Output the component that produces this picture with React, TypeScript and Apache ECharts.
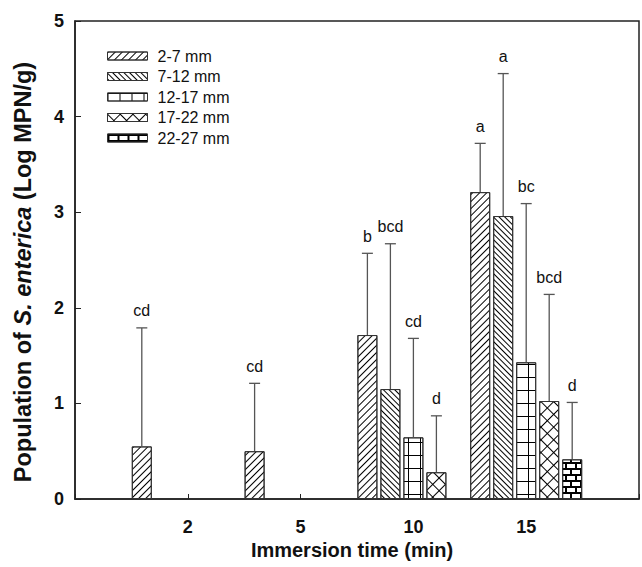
import React, { useEffect, useRef } from "react";
import * as echarts from "echarts";

// ---- data ----
const categories = ["", "2", "5", "10", "15", ""];
const seriesNames = ["2-7 mm", "7-12 mm", "12-17 mm", "17-22 mm", "22-27 mm"];

const mean_2_7 = [null, 0.55, 0.5, 1.715, 3.21, null];
const mean_7_12 = [null, null, null, 1.15, 2.96, null];
const mean_12_17 = [null, null, null, 0.645, 1.43, null];
const mean_17_22 = [null, null, null, 0.28, 1.025, null];
const mean_22_27 = [null, null, null, null, 0.415, null];

const upper_2_7 = [null, 1.79, 1.21, 2.57, 3.72, null];
const upper_7_12 = [null, null, null, 2.67, 4.45, null];
const upper_12_17 = [null, null, null, 1.68, 3.09, null];
const upper_17_22 = [null, null, null, 0.87, 2.14, null];
const upper_22_27 = [null, null, null, null, 1.01, null];

const letters_2_7 = ["", "cd", "cd", "b", "a", ""];
const letters_7_12 = ["", "", "", "bcd", "a", ""];
const letters_12_17 = ["", "", "", "cd", "bc", ""];
const letters_17_22 = ["", "", "", "d", "bcd", ""];
const letters_22_27 = ["", "", "", "", "d", ""];

const yMin = 0;
const yMax = 5;
const yInterval = 1;

const xTitle = "Immersion time (min)";

const means = [mean_2_7, mean_7_12, mean_12_17, mean_17_22, mean_22_27];
const uppers = [upper_2_7, upper_7_12, upper_12_17, upper_17_22, upper_22_27];
const letters = [letters_2_7, letters_7_12, letters_12_17, letters_17_22, letters_22_27];

// ---- style ----
const FONT = "'Liberation Sans', Arial, Helvetica, sans-serif";
const BAR_W = 20;
const BAR_GAP_PX = 3;

const base = { symbol: "rect", symbolSize: 1, symbolKeepAspect: false, color: "#000" };
const decals: any[] = [
  // "/" hatch
  { ...base, dashArrayX: [10, 0], dashArrayY: [1, 4], rotation: -Math.PI / 4 },
  // "\" hatch
  { ...base, dashArrayX: [10, 0], dashArrayY: [1, 3], rotation: Math.PI / 4 },
  // square grid
  { ...base, dashArrayX: [[12, 0], [1, 11]], dashArrayY: [1, 0, 12, 0], rotation: 0 },
  // diagonal cross-hatch
  { ...base, dashArrayX: [[9, 0], [1, 8]], dashArrayY: [1, 0, 8, 0], rotation: Math.PI / 4 },
  // brick
  {
    ...base,
    dashArrayX: [[10, 0], [2, 8], [10, 0], [0, 5, 2, 3]],
    dashArrayY: [2, 0, 4, 0, 2, 0, 4, 0],
    rotation: 0,
  },
];

export default function App() {
  const ref = useRef<HTMLDivElement>(null);

  useEffect(() => {
    if (!ref.current) return;
    const chart = echarts.init(ref.current, null, { renderer: "svg" });

    const errData: any[] = [];
    const errLetters: string[] = [];
    means.forEach((arr, s) => {
      arr.forEach((m, c) => {
        if (m != null && uppers[s][c] != null) {
          errData.push([c, s, m, uppers[s][c]]);
          errLetters.push(letters[s][c]);
        }
      });
    });
    const nSeries = seriesNames.length;

    const barSeries = seriesNames.map((name, s) => ({
      type: "bar",
      name,
      data: means[s].map((v) => (v == null ? "-" : v)),
      barWidth: BAR_W,
      barGap: `${(BAR_GAP_PX / BAR_W) * 100}%`,
      itemStyle: {
        color: "#fff",
        borderColor: "#333",
        borderWidth: 1,
        decal: decals[s],
      },
      emphasis: { disabled: true },
    }));

    const option: any = {
      animation: false,
      aria: { enabled: false },
      grid: {
        left: 75,
        top: 21,
        right: -8,
        bottom: 68,
        show: true,
        borderColor: "#222",
        borderWidth: 1.5,
        backgroundColor: "transparent",
      },
      legend: {
        data: seriesNames,
        orient: "vertical",
        left: 102,
        top: 43,
        icon: "rect",
        itemWidth: 40,
        itemHeight: 8,
        itemGap: 4.5,
        selectedMode: false,
        itemStyle: { borderColor: "#333", borderWidth: 1 },
        textStyle: {
          fontFamily: FONT,
          fontSize: 16,
          lineHeight: 16,
          color: "#111",
          padding: [0, 0, 0, 5],
        },
      },
      xAxis: {
        type: "category",
        data: categories,
        boundaryGap: false,
        axisLine: { show: true, lineStyle: { color: "#222", width: 1.5 } },
        axisTick: {
          show: true,
          inside: true,
          length: 5,
          interval: 0,
          lineStyle: { color: "#222", width: 1 },
        },
        axisLabel: {
          interval: 0,
          margin: 19,
          fontFamily: FONT,
          fontSize: 18,
          fontWeight: "bold",
          color: "#111",
        },
        splitLine: { show: false },
      },
      yAxis: {
        type: "value",
        min: yMin,
        max: yMax,
        interval: yInterval,
        axisLine: { show: true, lineStyle: { color: "#222", width: 1.5 } },
        axisTick: { show: true, inside: true, length: 6, lineStyle: { color: "#222", width: 1 } },
        axisLabel: {
          margin: 11,
          fontFamily: FONT,
          fontSize: 18,
          fontWeight: "bold",
          color: "#111",
        },
        splitLine: { show: false },
      },
      graphic: [
        {
          type: "text",
          x: 352,
          y: 550,
          style: {
            text: xTitle,
            fontFamily: FONT,
            fontSize: 20,
            fontWeight: "bold",
            fill: "#111",
            align: "center",
            verticalAlign: "middle",
          },
        },
        {
          type: "text",
          x: 23,
          y: 272,
          rotation: Math.PI / 2,
          style: {
            text: "{b|Population of }{bi|S. enterica}{b| (Log MPN/g)}",
            align: "center",
            verticalAlign: "middle",
            rich: {
              b: { fontFamily: FONT, fontSize: 23.5, fontWeight: "bold", fill: "#111" },
              bi: {
                fontFamily: FONT,
                fontSize: 23.5,
                fontWeight: "bold",
                fontStyle: "italic",
                fill: "#111",
              },
            },
          },
        },
      ],
      series: [
        ...barSeries,
        {
          type: "custom",
          name: "error",
          data: errData,
          encode: { x: 0, y: 3 },
          clip: false,
          z: 5,
          silent: true,
          renderItem: (params: any, api: any) => {
            const c = api.value(0);
            const s = api.value(1);
            const b = api.coord([c, api.value(2)]);
            const top = api.coord([c, api.value(3)]);
            const x = b[0] + (s - (nSeries - 1) / 2) * (BAR_W + BAR_GAP_PX);
            const style = { stroke: "#555", lineWidth: 1.3 };
            return {
              type: "group",
              children: [
                { type: "line", shape: { x1: x, y1: b[1], x2: x, y2: top[1] }, style },
                { type: "line", shape: { x1: x - 5.5, y1: top[1], x2: x + 5.5, y2: top[1] }, style },
                {
                  type: "text",
                  x,
                  y: top[1] - 17,
                  style: {
                    text: errLetters[params.dataIndex],
                    fontFamily: FONT,
                    fontSize: 16,
                    fill: "#111",
                    align: "center",
                    verticalAlign: "middle",
                  },
                },
              ],
            };
          },
        },
      ],
    };

    chart.setOption(option);
    return () => chart.dispose();
  }, []);

  return (
    <div
      ref={ref}
      style={{ position: "absolute", left: 0, top: 0, width: 642, height: 567, background: "#fff" }}
    />
  );
}
